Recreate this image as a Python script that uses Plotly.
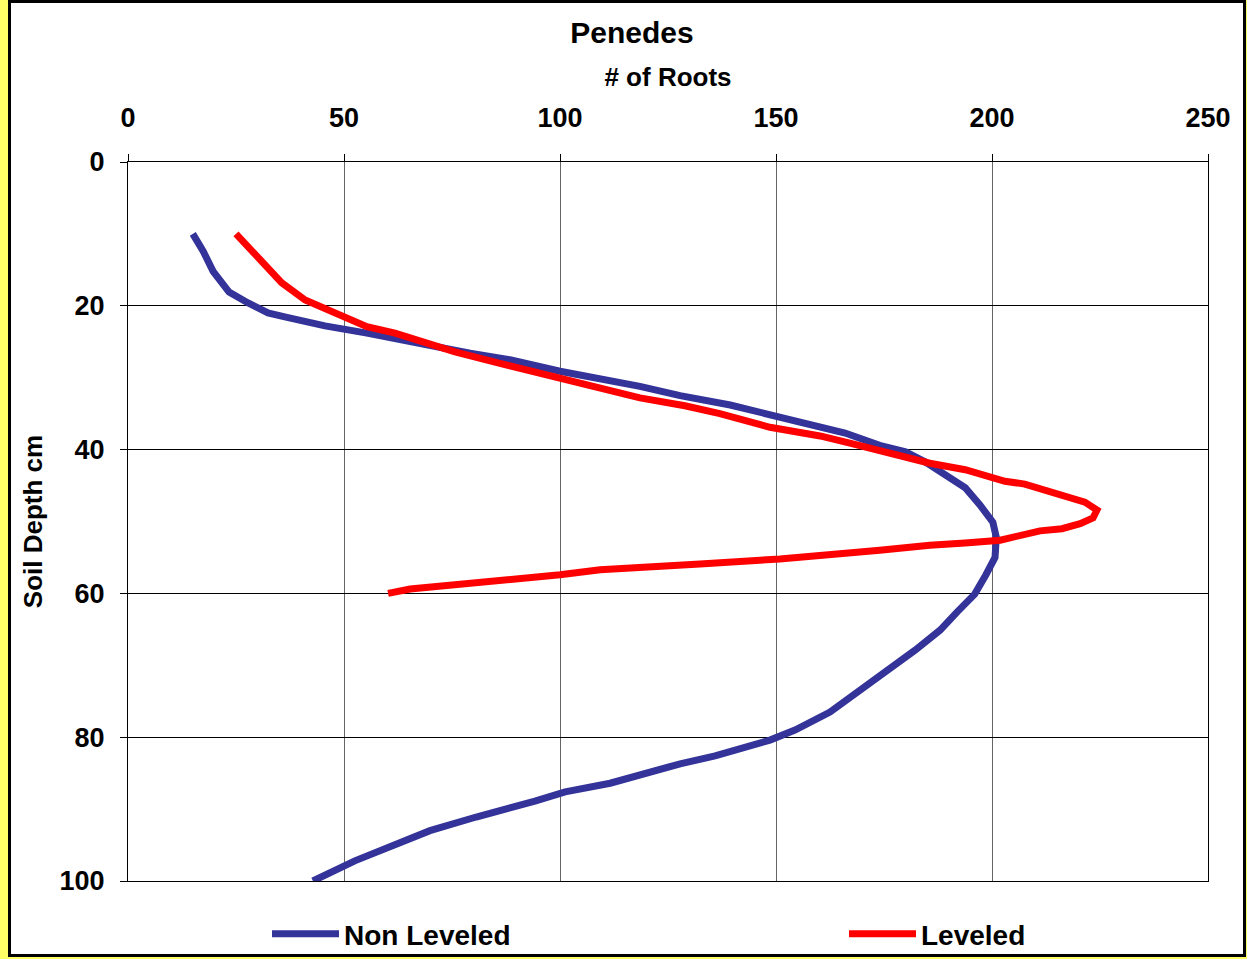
import plotly.graph_objects as go

# Non Leveled series (# of roots, soil depth cm)
non_leveled_roots = [15.0, 17.4, 19.7, 23.4, 27.8, 32.4, 36.8, 45.6, 55.3, 67.6, 79.2, 88.4, 100.0,
                     118.5, 127.8, 139.4, 155.6, 166.0, 174.0, 180.0, 184.5, 189.0, 193.8, 197.2,
                     200.2, 201.0, 200.7, 198.6, 196.0, 191.9, 188.0, 182.2, 176.4, 169.4, 162.5,
                     154.4, 148.6, 135.9, 127.8, 111.6, 101.2, 94.2, 88.4, 80.6, 69.9, 63.0, 52.5, 42.8]
non_leveled_depth = [10.0, 12.4, 15.2, 18.1, 19.6, 21.0, 21.6, 22.8, 23.8, 25.3, 26.6, 27.5, 29.1,
                     31.2, 32.5, 33.8, 36.2, 37.7, 39.4, 40.3, 41.7, 43.4, 45.3, 47.7,
                     50.1, 52.2, 55.0, 57.4, 60.1, 62.6, 65.1, 67.9, 70.4, 73.4, 76.5,
                     79.0, 80.4, 82.6, 83.7, 86.4, 87.6, 88.9, 89.8, 91.1, 93.0, 94.7, 97.2, 100.0]

# Leveled series
leveled_roots = [25.0, 28.7, 32.4, 35.6, 41.0, 46.8, 51.4, 55.3, 61.8, 68.8, 75.7, 86.1, 100.0,
                 109.3, 118.5, 128.9, 137.0, 148.6, 160.2, 167.1, 174.0, 179.9, 185.6, 193.8,
                 199.5, 203.0, 207.6, 212.3, 216.9, 221.5, 224.3, 223.4, 220.4, 216.2, 211.1,
                 206.5, 201.9, 193.8, 185.6, 174.0, 160.2, 150.9, 132.4, 109.3, 100.0, 88.4,
                 80.1, 69.9, 65.3, 60.2]
leveled_depth = [10.0, 12.5, 14.9, 16.8, 19.2, 20.7, 22.0, 22.9, 23.8, 25.2, 26.4, 28.0, 30.0,
                 31.3, 32.8, 33.9, 35.0, 36.9, 38.1, 39.1, 40.1, 41.0, 41.9, 42.8,
                 43.8, 44.4, 44.8, 45.6, 46.6, 47.3, 48.4, 49.5, 50.3, 51.0, 51.3,
                 52.0, 52.6, 53.0, 53.3, 54.0, 54.8, 55.2, 55.9, 56.7, 57.4, 58.1,
                 58.7, 59.1, 59.4, 60.0]

x_ticks = [0, 50, 100, 150, 200, 250]
y_ticks = [0, 20, 40, 60, 80, 100]

FONT = "Liberation Sans, Arial, sans-serif"
W, H = 1247, 959
L, R, T, B = 128, 39, 162, 78
PW, PH = W - L - R, H - T - B


def px_x(px):
    return (px - L) / PW


def px_y(py):
    return 1 - (py - T) / PH


fig = go.Figure()
fig.add_trace(go.Scatter(x=non_leveled_roots, y=non_leveled_depth, mode="lines",
                         name="<b>Non Leveled</b>", line=dict(color="#333399", width=7),
                         legend="legend", showlegend=True))
fig.add_trace(go.Scatter(x=leveled_roots, y=leveled_depth, mode="lines",
                         name="<b>Leveled</b>", line=dict(color="#FF0000", width=7),
                         legend="legend2", showlegend=True))

legend_common = dict(orientation="h", xanchor="left", yanchor="middle", itemwidth=67,
                     bgcolor="rgba(0,0,0,0)",
                     font=dict(size=28, family=FONT, color="black"))

fig.update_layout(
    width=W, height=H,
    showlegend=True,
    margin=dict(l=L, r=R, t=T, b=B, autoexpand=False),
    paper_bgcolor="#FFFF66",
    plot_bgcolor="white",
    font=dict(family=FONT, color="black"),
    title=dict(text="<b>Penedes</b>", x=632 / W, xanchor="center", xref="container",
               y=1 - 32 / H, yanchor="middle", yref="container",
               font=dict(size=30, family=FONT, color="black")),
    xaxis=dict(side="top", range=[0, 250], tickvals=x_ticks, ticktext=[f"<b>{v}</b>" for v in x_ticks],
               showgrid=True, gridcolor="#666666", gridwidth=1,
               showline=True, linecolor="black", linewidth=1, mirror=True,
               ticks="outside", ticklen=7, tickcolor="black",
               tickfont=dict(size=27, family=FONT, color="black"),
               ticklabelstandoff=16,
               title=dict(text="<b># of Roots</b>", font=dict(size=26, family=FONT, color="black"),
                          standoff=9),
               zeroline=False),
    yaxis=dict(range=[100, 0], tickvals=y_ticks, ticktext=[f"<b>{v}</b>" for v in y_ticks],
               showgrid=True, gridcolor="black", gridwidth=1,
               showline=True, linecolor="black", linewidth=1, mirror=True,
               ticks="outside", ticklen=7, tickcolor="black",
               tickfont=dict(size=27, family=FONT, color="black"),
               ticklabelstandoff=10,
               title=dict(text="<b>Soil Depth cm</b>", font=dict(size=26, family=FONT, color="black"),
                          standoff=9),
               zeroline=False),
    legend=dict(x=px_x(273 - 6), y=px_y(934), **legend_common),
    legend2=dict(x=px_x(850 - 6), y=px_y(934), **legend_common),
    shapes=[dict(type="rect", xref="paper", yref="paper",
                 x0=px_x(9.5), x1=px_x(1244.5), y0=px_y(1.5), y1=px_y(955.5),
                 line=dict(color="black", width=3), fillcolor="white", layer="below")],
)

fig.write_html("out.html", config={"displayModeBar": False},
               post_script="document.body.style.margin='0';")
